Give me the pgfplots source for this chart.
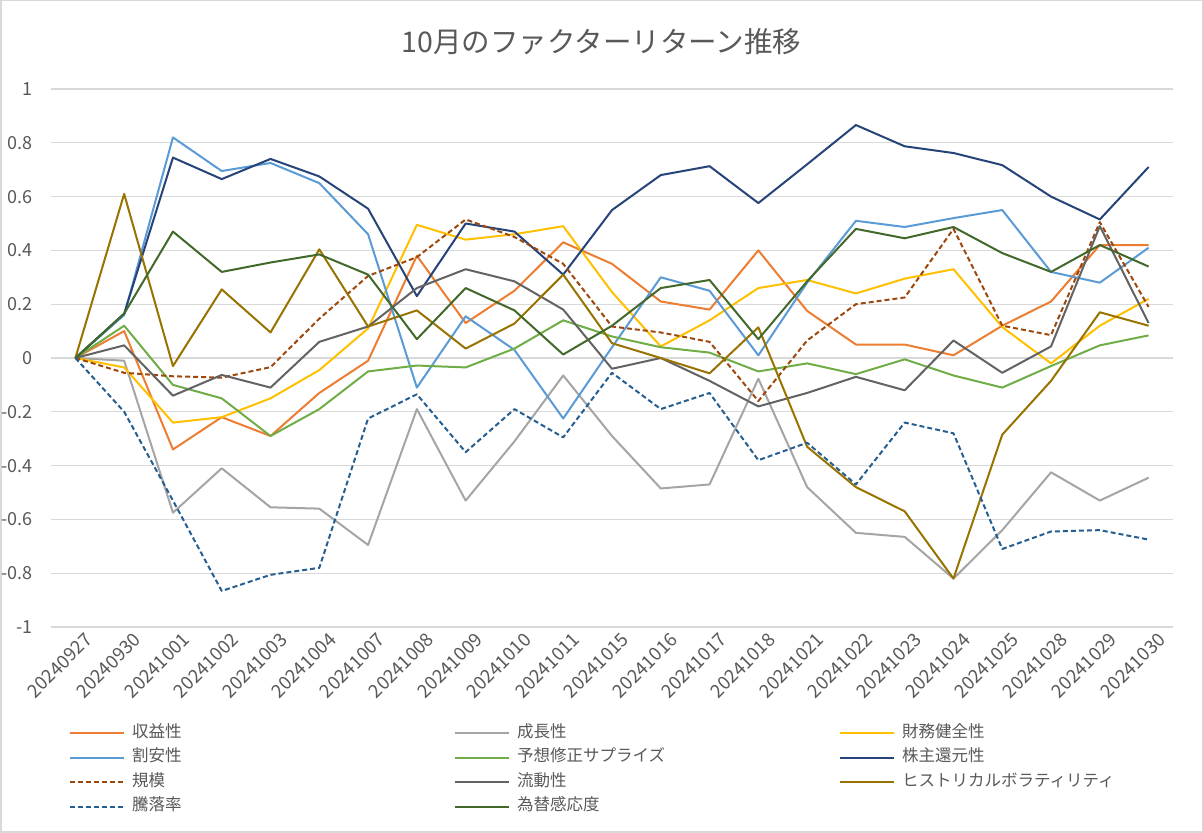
\documentclass[border=0pt]{standalone}
\usepackage{pgfplots}
\usepackage{pgfplotstable}
\pgfplotsset{compat=1.18}
\usepackage{fontspec}
\setmainfont{Noto Sans CJK JP}
\definecolor{txt}{HTML}{595959}
\definecolor{gridc}{HTML}{D9D9D9}
\definecolor{cA}{HTML}{ED7D31}
\definecolor{cB}{HTML}{A5A5A5}
\definecolor{cC}{HTML}{FFC000}
\definecolor{cD}{HTML}{5B9BD5}
\definecolor{cE}{HTML}{70AD47}
\definecolor{cF}{HTML}{264478}
\definecolor{cG}{HTML}{9E480E}
\definecolor{cH}{HTML}{636363}
\definecolor{cI}{HTML}{997300}
\definecolor{cJ}{HTML}{255E91}
\definecolor{cK}{HTML}{43682B}
\pgfplotstableread{
x a b c d e f g h i j k
0 0 0 0 0 0 0 0 0 0 0 0
1 0.10 -0.01 -0.035 0.16 0.12 0.165 -0.055 0.047 0.61 -0.20 0.165
2 -0.34 -0.575 -0.24 0.82 -0.10 0.745 -0.068 -0.14 -0.03 -0.53 0.47
3 -0.22 -0.41 -0.22 0.695 -0.15 0.665 -0.073 -0.063 0.255 -0.866 0.32
4 -0.29 -0.555 -0.15 0.725 -0.29 0.74 -0.034 -0.11 0.095 -0.806 0.355
5 -0.13 -0.56 -0.045 0.65 -0.19 0.675 0.146 0.06 0.404 -0.78 0.385
6 -0.01 -0.695 0.11 0.46 -0.05 0.555 0.305 0.117 0.117 -0.225 0.31
7 0.38 -0.19 0.495 -0.11 -0.028 0.23 0.375 0.26 0.177 -0.135 0.07
8 0.13 -0.53 0.44 0.155 -0.035 0.50 0.515 0.33 0.035 -0.35 0.26
9 0.25 -0.31 0.46 0.03 0.035 0.47 0.45 0.285 0.128 -0.19 0.177
10 0.43 -0.065 0.49 -0.225 0.14 0.31 0.35 0.18 0.31 -0.295 0.013
11 0.35 -0.29 0.245 0.04 0.08 0.55 0.117 -0.04 0.055 -0.055 0.12
12 0.21 -0.485 0.043 0.30 0.04 0.68 0.095 0.0 0.0 -0.19 0.26
13 0.18 -0.47 0.14 0.25 0.02 0.713 0.06 -0.085 -0.057 -0.13 0.29
14 0.40 -0.077 0.26 0.01 -0.05 0.576 -0.16 -0.18 0.114 -0.38 0.07
15 0.175 -0.48 0.29 0.28 -0.02 0.72 0.065 -0.13 -0.33 -0.315 0.285
16 0.05 -0.65 0.24 0.51 -0.06 0.866 0.20 -0.07 -0.48 -0.47 0.48
17 0.05 -0.665 0.295 0.487 -0.005 0.787 0.225 -0.12 -0.57 -0.24 0.445
18 0.01 -0.82 0.33 0.52 -0.065 0.762 0.48 0.065 -0.82 -0.28 0.487
19 0.12 -0.64 0.115 0.55 -0.11 0.717 0.12 -0.055 -0.285 -0.71 0.39
20 0.21 -0.425 -0.02 0.32 -0.03 0.60 0.085 0.043 -0.085 -0.645 0.32
21 0.42 -0.53 0.12 0.28 0.047 0.515 0.505 0.49 0.17 -0.64 0.42
22 0.42 -0.445 0.22 0.41 0.084 0.71 0.19 0.13 0.12 -0.675 0.34
}\datatable
\begin{document}
\begin{tikzpicture}
\fill[white] (0pt,0pt) rectangle (1203pt,833pt);
\draw[gridc, line width=1.5pt] (0.75pt,0.75pt) rectangle (1202.25pt,832.25pt);
\node[font=\fontsize{28.5}{32}\selectfont, text=txt] at (601.5pt,791pt) {10月のファクターリターン推移};
\begin{axis}[
  at={(51pt,206pt)}, anchor=south west,
  scale only axis, width=1122pt, height=538pt,
  xmin=-0.5, xmax=22.5, ymin=-1, ymax=1,
  axis line style={draw=none},
  tick style={draw=none},
  ymajorgrids, grid style={color=gridc, line width=1.3pt},
  ytick={-1,-0.8,-0.6,-0.4,-0.2,0,0.2,0.4,0.6,0.8,1},
  yticklabels={-1,-0.8,-0.6,-0.4,-0.2,0,0.2,0.4,0.6,0.8,1},
  xtick={0,...,22},
  xticklabels={20240927,20240930,20241001,20241002,20241003,20241004,20241007,20241008,20241009,20241010,20241011,20241015,20241016,20241017,20241018,20241021,20241022,20241023,20241024,20241025,20241028,20241029,20241030},
  tick label style={text=txt},
  yticklabel style={font=\fontsize{18}{21}\selectfont, anchor=east, inner sep=0pt, xshift=-18pt},
  xticklabel style={font=\fontsize{18.5}{21}\selectfont, rotate=45, anchor=east, inner sep=0pt, xshift=3pt, yshift=-16pt},
  legend columns=3,
  legend image code/.code={\draw[#1] (0pt,0pt) -- (54pt,0pt);},
  legend style={at={(0.016,-0.1743)}, anchor=north west, draw=none, fill=none, inner sep=0pt,
    font=\fontsize{16.5}{19}\selectfont, text=txt,
    /tikz/every odd column/.append style={column sep=3pt},
    nodes={text width=318pt, inner xsep=4pt, text height=12pt, text depth=4pt, inner ysep=4.25pt, align=left}},
  every axis plot/.append style={line width=2pt, line join=round},
]
\addplot[cA] table[x=x,y=a]{\datatable}; \addlegendentry{収益性}
\addplot[cB] table[x=x,y=b]{\datatable}; \addlegendentry{成長性}
\addplot[cC] table[x=x,y=c]{\datatable}; \addlegendentry{財務健全性}
\addplot[cD] table[x=x,y=d]{\datatable}; \addlegendentry{割安性}
\addplot[cE] table[x=x,y=e]{\datatable}; \addlegendentry{予想修正サプライズ}
\addplot[cF] table[x=x,y=f]{\datatable}; \addlegendentry{株主還元性}
\addplot[cG, dash pattern=on 5pt off 3pt] table[x=x,y=g]{\datatable}; \addlegendentry{規模}
\addplot[cH] table[x=x,y=h]{\datatable}; \addlegendentry{流動性}
\addplot[cI] table[x=x,y=i]{\datatable}; \addlegendentry{ヒストリカルボラティリティ}
\addplot[cJ, dash pattern=on 5pt off 3pt] table[x=x,y=j]{\datatable}; \addlegendentry{騰落率}
\addplot[cK] table[x=x,y=k]{\datatable}; \addlegendentry{為替感応度}
\end{axis}
\pgfresetboundingbox
\path (0pt,0pt) rectangle (1203pt,833pt);
\end{tikzpicture}
\end{document}
